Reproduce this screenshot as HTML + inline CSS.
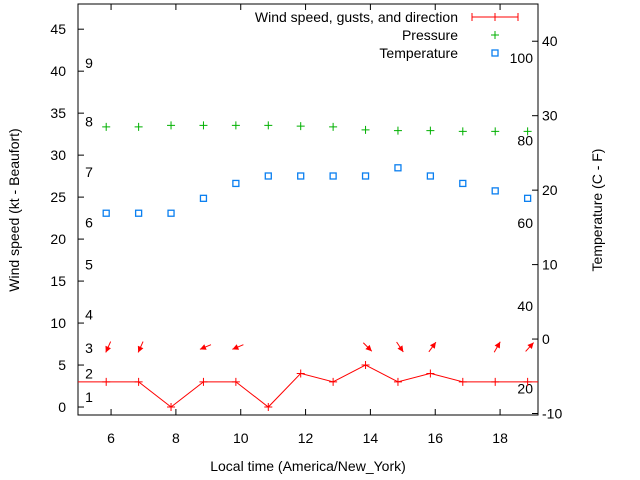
<!DOCTYPE html>
<html><head><meta charset="utf-8"><style>
body{margin:0;background:#fff}
svg{display:block;font-family:"Liberation Sans",sans-serif}
</style></head><body>
<svg id="chart" width="640" height="480" viewBox="0 0 640 480" xmlns="http://www.w3.org/2000/svg"></svg>
<script>
const hours=[5.85,6.85,7.85,8.85,9.85,10.85,11.85,12.85,13.85,14.85,15.85,16.85,17.85,18.85];
const windSpeed=[3,3,0,3,3,0,4,3,5,3,4,3,3,3];
const pressure=[28.5,28.5,28.7,28.7,28.7,28.7,28.6,28.5,28.1,28.0,28.0,27.9,27.9,27.9];
const temperature=[16.9,16.9,16.9,18.9,20.9,21.9,21.9,21.9,21.9,23.0,21.9,20.9,19.9,18.9];
const windDir=[24,24,null,67,67,null,null,null,315,326,216,null,210,222];
const xTicks=[6,8,10,12,14,16,18];
const yTicks=[0,5,10,15,20,25,30,35,40,45];
const y2Ticks=[-10,0,10,20,30,40];
const fTicks=[20,40,60,80,100];
const beaufortLabels=[["1",1.2],["2",4],["3",7],["4",11],["5",17],["6",22],["7",28],["8",34],["9",41]];

const L=78,R=538,T=4,B=415;
const xMin=4.98,xMax=19.17,yMin=-0.95,yMax=48,y2Min=-10.2,y2Max=45;
const X=v=>L+(v-xMin)/(xMax-xMin)*(R-L);
const Y=v=>B-(v-yMin)/(yMax-yMin)*(B-T);
const Y2=v=>B-(v-y2Min)/(y2Max-y2Min)*(B-T);
const svg=document.getElementById('chart');
const NS='http://www.w3.org/2000/svg';
function mk(tag,attrs,parent){const e=document.createElementNS(NS,tag);for(const k in attrs)e.setAttribute(k,attrs[k]);(parent||svg).appendChild(e);return e;}
function txt(s,x,y,anchor,size,parent){const t=mk('text',{x:x,y:y,'text-anchor':anchor,'font-size':size||14,fill:'#000'},parent);t.textContent=s;return t;}

// clip
const defs=mk('defs',{});const cp=mk('clipPath',{id:'pc'},defs);mk('rect',{x:L,y:T,width:R-L,height:B-T},cp);

// frame
const frame=mk('rect',{x:L,y:T,width:R-L,height:B-T,fill:'none',stroke:'#000','stroke-width':1});



const xg=mk('g',{});


xTicks.forEach(v=>{const x=X(v);mk('line',{x1:x,y1:B,x2:x,y2:B-6,stroke:'#000'},xg);mk('line',{x1:x,y1:T,x2:x,y2:T+6,stroke:'#000'},xg);txt(String(v),x,443,'middle',14,xg);});
const yg=mk('g',{});


yTicks.forEach(v=>{const y=Y(v);mk('line',{x1:L,y1:y,x2:L+6,y2:y,stroke:'#000'},yg);txt(String(v),66,y+5,'end',14,yg);});
const bg=mk('g',{});


beaufortLabels.forEach(b=>{txt(b[0],89,Y(b[1])+5,'middle',14,bg);});
const y2g=mk('g',{});


y2Ticks.forEach(v=>{const y=Y2(v);mk('line',{x1:R,y1:y,x2:R-6,y2:y,stroke:'#000'},y2g);txt(String(v),542,y+5,'start',14,y2g);});
const fg=mk('g',{});


fTicks.forEach(f=>{const c=(f-32)*5/9;txt(String(f),533,Y2(c)+5,'end',14,fg);});

const xt=txt('Local time (America/New_York)',308,471,'middle',14);


const yt=txt('Wind speed (kt - Beaufort)',0,0,'middle',14);
yt.setAttribute('transform','translate(19,210) rotate(-90)');


const y2t=txt('Temperature (C - F)',0,0,'middle',14);
y2t.setAttribute('transform','translate(602,210) rotate(-90)');



const plot=mk('g',{'clip-path':'url(#pc)'});
// wind line
let pts=[[X(hours[0]-1),Y(windSpeed[0])]].concat(hours.map((h,i)=>[X(h),Y(windSpeed[i])]));
pts.push([X(hours[hours.length-1]+1),Y(windSpeed[windSpeed.length-1])]);
const wl=mk('polyline',{points:pts.map(p=>p.join(',')).join(' '),fill:'none',stroke:'#f00','stroke-width':1},plot);


hours.forEach((h,i)=>{const x=X(h),y=Y(windSpeed[i]);const p=mk('path',{d:`M${x-4},${y}h8M${x},${y-4}v8`,stroke:'#f00','stroke-width':1},plot);

});
// arrows
hours.forEach((h,i)=>{const d=windDir[i];if(d===null)return;const r=d*Math.PI/180;const dx=-Math.sin(r),dy=Math.cos(r);const cx=X(h)+2,cy=347,len=12;
const x1=cx-dx*len/2,y1=cy-dy*len/2,x2=cx+dx*len/2,y2=cy+dy*len/2;
const g=mk('g',{},plot);


mk('line',{x1:x1,y1:y1,x2:x2,y2:y2,stroke:'#f00','stroke-width':1},g);
const px=-dy,py=dx;mk('polygon',{points:`${x2},${y2} ${x2-dx*6+px*3},${y2-dy*6+py*3} ${x2-dx*6-px*3},${y2-dy*6-py*3}`,fill:'#f00'},g);});
// pressure
hours.forEach((h,i)=>{const x=X(h),y=Y2(pressure[i]);const p=mk('path',{d:`M${x-4},${y}h8M${x},${y-4}v8`,stroke:'#00b000','stroke-width':1},plot);

});
// temperature
hours.forEach((h,i)=>{const x=X(h),y=Y2(temperature[i]);const s=mk('rect',{x:x-3,y:y-3,width:6,height:6,fill:'none',stroke:'#0a7ff0','stroke-width':1.3},plot);

});

// legend
const lg=mk('g',{});


txt('Wind speed, gusts, and direction',458,22,'end',14,lg);
mk('path',{d:'M472,17h46M472,13v8M518,13v8M495,13v8',stroke:'#f00','stroke-width':1,fill:'none'},lg);
txt('Pressure',458,40,'end',14,lg);
mk('path',{d:'M491,35h8M495,31v8',stroke:'#00b000','stroke-width':1},lg);
txt('Temperature',458,58,'end',14,lg);
mk('rect',{x:492,y:50,width:6,height:6,fill:'none',stroke:'#0a7ff0','stroke-width':1.3},lg);
</script>
</body></html>
